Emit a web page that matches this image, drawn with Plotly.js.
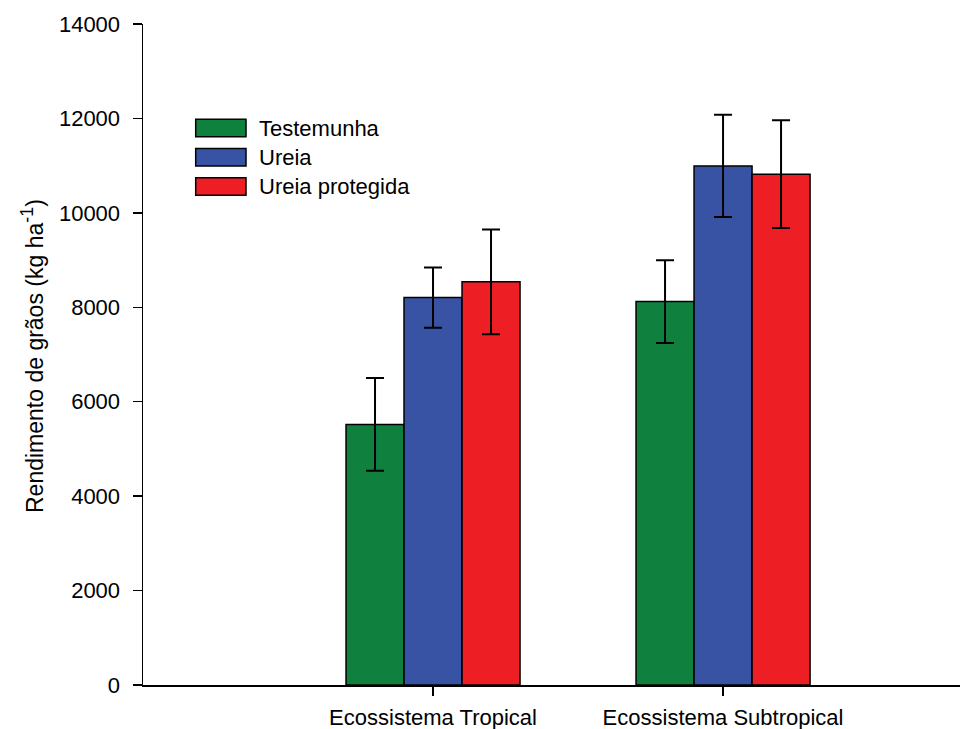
<!DOCTYPE html>
<html>
<head>
<meta charset="utf-8">
<script src="https://cdn.plot.ly/plotly-3.0.1.min.js"></script>
<style>
html,body{margin:0;padding:0;background:#fff;}
#chart{width:960px;height:729px;}
</style>
</head>
<body>
<div id="chart"></div>
<script>
// ---- data ----
const categories = ['Ecossistema Tropical', 'Ecossistema Subtropical'];
const seriesNames = ['Testemunha', 'Ureia', 'Ureia protegida'];
const testemunha = [5520, 8120];
const ureia = [8205, 10995];
const ureiaProtegida = [8540, 10820];
const errTestemunha = [980, 875];
const errUreia = [640, 1085];
const errUreiaProtegida = [1110, 1140];
const yTickVals = [0, 2000, 4000, 6000, 8000, 10000, 12000, 14000];
const yTitle = 'Rendimento de grãos (kg ha<sup><span style="font-size:18px">-1</span></sup>)';

const colors = ['#10803f', '#3953a4', '#ed1f24'];
const values = [testemunha, ureia, ureiaProtegida];
const errors = [errTestemunha, errUreia, errUreiaProtegida];
const FONT = 'Liberation Sans, Arial, sans-serif';

const traces = seriesNames.map((name, i) => ({
  type: 'bar',
  name: name,
  x: categories,
  y: values[i],
  marker: {color: colors[i], line: {color: '#000', width: 1.5}},
  error_y: {type: 'data', array: errors[i], visible: true, color: '#000', thickness: 2, width: 9},
  showlegend: false
}));

// plot area geometry (pixels) for the hand-drawn legend
const L = 143, T = 24, W = 817, H = 661;
const px = v => (v - L) / W;
const py = v => (T + H - v) / H;

const legendShapes = [];
const legendAnn = [];
const boxTops = [119.3, 148.5, 177.7];
seriesNames.forEach((name, i) => {
  legendShapes.push({
    type: 'rect', xref: 'paper', yref: 'paper',
    x0: px(195.7), x1: px(246), y0: py(boxTops[i]), y1: py(boxTops[i] + 17.5),
    fillcolor: colors[i], line: {color: '#000', width: 1.5}
  });
  legendAnn.push({
    xref: 'paper', yref: 'paper', x: px(257), y: py(boxTops[i] + 8.8),
    xanchor: 'left', yanchor: 'middle', showarrow: false,
    text: name, font: {family: FONT, size: 22, color: '#000'}
  });
});

legendAnn.push({
  xref: 'paper', yref: 'paper', x: px(32), y: py(356),
  xanchor: 'center', yanchor: 'middle', showarrow: false, textangle: -90,
  text: yTitle, font: {family: FONT, size: 23, color: '#000'}
});

const layout = {
  width: 960, height: 729,
  margin: {l: L, r: 0, t: T, b: 729 - T - H, pad: 0},
  paper_bgcolor: '#fff', plot_bgcolor: '#fff',
  font: {family: FONT, size: 22, color: '#000'},
  barmode: 'group', bargap: 0.4, bargroupgap: 0,
  showlegend: false,
  xaxis: {
    type: 'category', range: [-1, 1.817], autorange: false,
    showline: true, linecolor: '#000', linewidth: 1.5,
    ticks: 'outside', ticklen: 9, tickwidth: 1.5, tickcolor: '#000',
    showgrid: false, zeroline: false, automargin: false,
    tickfont: {family: FONT, size: 22, color: '#000'},
    ticklabelstandoff: 3
  },
  yaxis: {
    range: [0, 14000], autorange: false,
    tickvals: yTickVals, ticktext: yTickVals.map(String),
    showline: true, linecolor: '#000', linewidth: 1.5,
    ticks: 'outside', ticklen: 9, tickwidth: 1.5, tickcolor: '#000',
    showgrid: false, zeroline: false, automargin: false,
    tickfont: {family: FONT, size: 22, color: '#000'},
    ticklabelstandoff: 8
  },
  shapes: legendShapes,
  annotations: legendAnn
};

Plotly.newPlot('chart', traces, layout, {staticPlot: true, displayModeBar: false});
</script>
</body>
</html>
